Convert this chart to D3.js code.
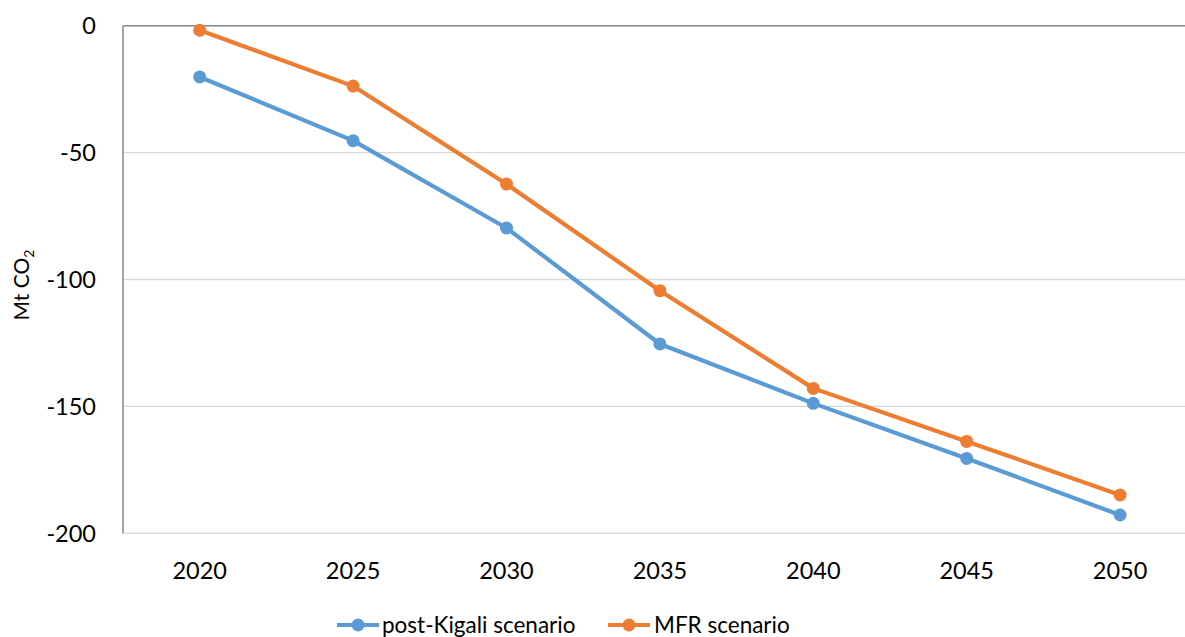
<!DOCTYPE html>
<html>
<head>
<meta charset="utf-8">
<script src="https://cdn.jsdelivr.net/npm/d3@7"></script>
<style>
  html, body { margin: 0; padding: 0; background: #fff; overflow: hidden; }
  svg { display: block; font-family: Lato, "Open Sans", sans-serif; }
</style>
</head>
<body>
<svg id="chart" width="1185" height="637"></svg>
<script>
// Emission change relative to baseline (Mt CO2)
const years = ["2020", "2025", "2030", "2035", "2040", "2045", "2050"];
const postKigali = [-20.2, -45.3, -79.7, -125.4, -148.8, -170.5, -192.8];
const mfr = [-1.8, -23.8, -62.4, -104.4, -142.9, -163.8, -184.9];
const yTicks = [0, -50, -100, -150, -200];
const seriesNames = ["post-Kigali scenario", "MFR scenario"];
const seriesColors = ["#5B9BD5", "#ED7D31"];

const svg = d3.select("#chart");
const plot = { left: 123, top: 25.7, right: 1196.8, bottom: 533.3 };

const x = d3.scaleBand().domain(years).range([plot.left, plot.right]);
const y = d3.scaleLinear().domain([-200, 0]).range([plot.bottom, plot.top]);

// horizontal gridlines
svg.append("g")
  .selectAll("line")
  .data(yTicks.filter(d => d !== 0))
  .join("line")
  .attr("x1", plot.left).attr("x2", plot.right)
  .attr("y1", d => y(d)).attr("y2", d => y(d))
  .attr("stroke", "#D9D9D9").attr("stroke-width", 1.3);

// category axis sits on the zero line
svg.append("line")
  .attr("x1", plot.left).attr("x2", plot.right)
  .attr("y1", y(0)).attr("y2", y(0))
  .attr("stroke", "#868686").attr("stroke-width", 1.5);

// value axis
svg.append("line")
  .attr("x1", plot.left).attr("x2", plot.left)
  .attr("y1", y(0)).attr("y2", y(-200))
  .attr("stroke", "#868686").attr("stroke-width", 1.5);

// y tick labels
svg.append("g")
  .selectAll("text")
  .data(yTicks)
  .join("text")
  .attr("x", 96)
  .attr("y", d => y(d))
  .attr("dy", "0.35em")
  .attr("text-anchor", "end")
  .attr("font-size", 23.5)
  .attr("fill", "#000")
  .text(d => d);

// x tick labels
svg.append("g")
  .selectAll("text")
  .data(years)
  .join("text")
  .attr("x", d => x(d) + x.bandwidth() / 2)
  .attr("y", 579)
  .attr("text-anchor", "middle")
  .attr("font-size", 23.5)
  .attr("fill", "#000")
  .text(d => d);

// y axis title
const yTitle = svg.append("text")
  .attr("transform", "translate(29,285) rotate(-90)")
  .attr("text-anchor", "middle")
  .attr("font-size", 21)
  .attr("fill", "#000");
yTitle.append("tspan").text("Mt CO");
yTitle.append("tspan").attr("font-size", 14).attr("dy", 5).text("2");

// series
const series = [postKigali, mfr];
const line = d3.line()
  .x((d, i) => x(years[i]) + x.bandwidth() / 2)
  .y(d => y(d));

series.forEach((vals, si) => {
  const g = svg.append("g");
  g.append("path")
    .datum(vals)
    .attr("d", line)
    .attr("fill", "none")
    .attr("stroke", seriesColors[si])
    .attr("stroke-width", 4.2)
    .attr("stroke-linejoin", "round");
  g.selectAll("circle")
    .data(vals)
    .join("circle")
    .attr("cx", (d, i) => x(years[i]) + x.bandwidth() / 2)
    .attr("cy", d => y(d))
    .attr("r", 6.5)
    .attr("fill", seriesColors[si]);
});

// legend
const legendItems = [
  { x0: 337, tx: 382 },
  { x0: 608, tx: 654 }
];
const ly = 625;
legendItems.forEach((it, i) => {
  const g = svg.append("g");
  g.append("line")
    .attr("x1", it.x0).attr("x2", it.x0 + 42)
    .attr("y1", ly).attr("y2", ly)
    .attr("stroke", seriesColors[i]).attr("stroke-width", 4.2);
  g.append("circle")
    .attr("cx", it.x0 + 21).attr("cy", ly).attr("r", 6.5)
    .attr("fill", seriesColors[i]);
  g.append("text")
    .attr("x", it.tx).attr("y", ly)
    .attr("dy", "0.35em")
    .attr("font-size", 22.5)
    .attr("fill", "#000")
    .text(seriesNames[i]);
});
</script>
</body>
</html>
